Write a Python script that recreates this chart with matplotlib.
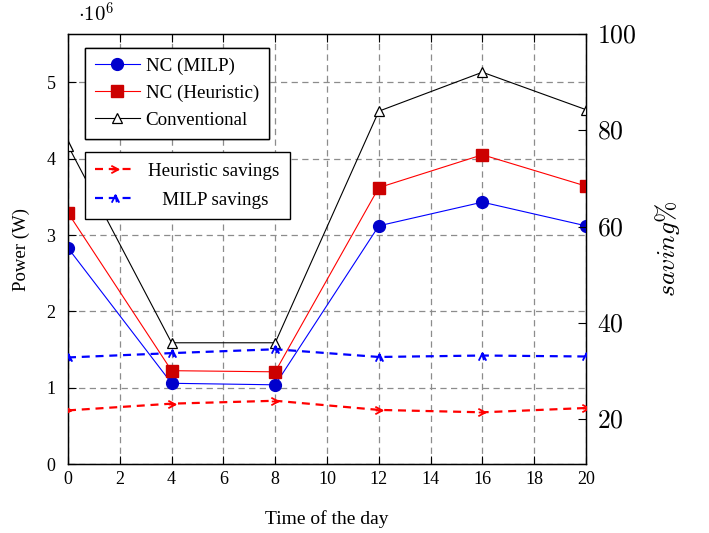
import matplotlib
matplotlib.use("Agg")
import matplotlib.pyplot as plt
from matplotlib.path import Path
import numpy as np

plt.rcParams["font.family"] = ["Liberation Serif", "DejaVu Serif"]
plt.rcParams["mathtext.fontset"] = "cm"

# Time of the day (hours)
hours = [0, 4, 8, 12, 16, 20]

# Power demand in units of 10^6 W
power_milp = [2.83, 1.06, 1.04, 3.12, 3.43, 3.12]
power_heuristic = [3.29, 1.225, 1.21, 3.62, 4.05, 3.64]
power_conventional = [4.17, 1.59, 1.59, 4.62, 5.13, 4.64]

# Savings relative to the conventional system (%)
saving_heuristic = [21.8, 23.2, 23.8, 21.9, 21.4, 22.3]
saving_milp = [32.8, 33.7, 34.5, 32.9, 33.2, 33.0]

x_ticks = list(range(0, 21, 2))
power_ticks = [0, 1, 2, 3, 4, 5]
saving_ticks = [20, 40, 60, 80, 100]

# small open arrow-head markers for the savings curves
arrow_right = Path([(-1.0, 0.9), (0.7, 0.0), (-1.0, -0.9), (-0.9, 0.0), (0.7, 0.0)],
                   [Path.MOVETO, Path.LINETO, Path.LINETO, Path.MOVETO, Path.LINETO])
arrow_up = Path([(-0.9, -1.0), (0.0, 0.8), (0.9, -1.0), (0.0, 0.8), (0.3, -0.9)],
                [Path.MOVETO, Path.LINETO, Path.LINETO, Path.MOVETO, Path.LINETO])

fig = plt.figure(figsize=(7.09, 5.33), dpi=100)
ax = fig.add_axes([68 / 709, 68.7 / 533, 518 / 709, 430.3 / 533])

grid_kw = dict(color="#8c8c8c", lw=0.9, dashes=(5, 3.5), zorder=0.5)
for xv in x_ticks:
    ax.axvline(xv, **grid_kw)
for yv in power_ticks:
    ax.axhline(yv, **grid_kw)

l1, = ax.plot(hours, power_milp, color="#0000ff", lw=0.8, marker="o", ms=8.5,
              mfc="#0000cc", mec="#0000cc", label="NC (MILP)", zorder=3)
l2, = ax.plot(hours, power_heuristic, color="#ff0000", lw=0.8, marker="s", ms=8,
              mfc="#cc0000", mec="#cc0000", label="NC (Heuristic)", zorder=3)
l3, = ax.plot(hours, power_conventional, color="black", lw=0.8, marker="^", ms=6.5,
              mfc="white", mec="black", mew=0.9, label="Conventional", zorder=3)

ax.set_xlim(0, 20)
ax.set_ylim(0, 5.63)
ax.set_xticks(x_ticks)
ax.set_yticks(power_ticks)
ax.tick_params(axis="both", direction="in", length=6, width=0.8, labelsize=13,
               top=True, right=True)
ax.tick_params(axis="y", pad=9)
ax.tick_params(axis="x", pad=5)
for sp in ax.spines.values():
    sp.set_linewidth(1.0)
ax.set_xlabel("Time of the day", fontsize=14, labelpad=16)
ax.set_ylabel("Power (W)", fontsize=13.5, labelpad=12)
ax.text(0.019, 1.045, r"$\cdot 10^{6}$", transform=ax.transAxes, fontsize=15,
        ha="left", va="center")

leg1 = ax.legend(handles=[l1, l2, l3], loc="upper left",
                 bbox_to_anchor=(0.0328, 0.968), borderaxespad=0, fancybox=False,
                 edgecolor="black", framealpha=1, fontsize=13.7, handlelength=2.37,
                 handletextpad=0.3, labelspacing=0.5, borderpad=0.52)
leg1.get_frame().set_linewidth(1.0)
ax.add_artist(leg1)

ax2 = ax.twinx()
s1, = ax2.plot(hours, saving_heuristic, color="#ff0000", lw=1.6, dashes=(3.6, 2.6),
               marker=arrow_right, ms=6, mfc="none", mec="#ff0000", mew=1.3,
               label="Heuristic savings", zorder=3)
s2, = ax2.plot(hours, saving_milp, color="#0000ff", lw=1.6, dashes=(3.6, 2.6),
               marker=arrow_up, ms=6, mfc="none", mec="#0000ff", mew=1.3,
               label="   MILP savings", zorder=3)
ax2.set_ylim(10.6, 100)
ax2.set_yticks(saving_ticks)
ax2.set_yticklabels([rf"${v}$" for v in saving_ticks])
ax2.tick_params(axis="y", direction="in", length=6, width=0.8, labelsize=18.5, pad=8)
ax2.set_ylabel(r"$saving\%$", fontsize=18.5, labelpad=12)

leg2 = ax2.legend(handles=[s1, s2], loc="upper left",
                  bbox_to_anchor=(0.0322, 0.725), borderaxespad=0, fancybox=False,
                  edgecolor="black", framealpha=1, fontsize=13.7, handlelength=2.1,
                  handletextpad=0.67, labelspacing=0.6, borderpad=0.55)
leg2.get_frame().set_linewidth(1.0)

fig.savefig("out.png", dpi=100)
